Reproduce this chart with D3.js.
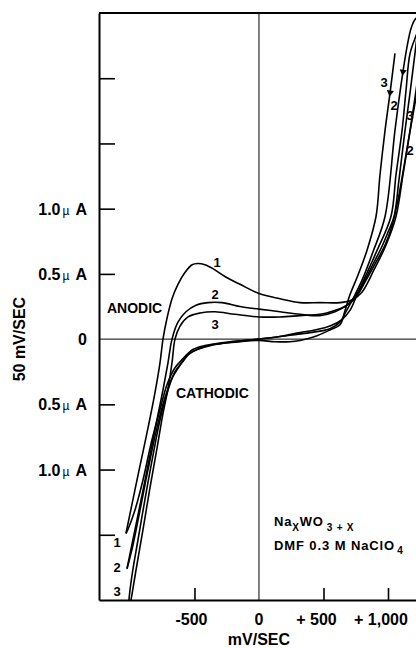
<!DOCTYPE html>
<html>
<head>
<meta charset="utf-8">
<script src="https://cdn.jsdelivr.net/npm/d3@7"></script>
<style>
  body { margin: 0; background: #fff; }
  text { font-family: "Liberation Sans", Arial, sans-serif; font-weight: bold; fill: #000; }
</style>
</head>
<body>
<svg id="chart"></svg>
<script>
// Cyclic voltammogram, 3 cycles. Points are [mV, µA]
const cycle1Anodic = [[-1031,-1.49],[-977,-1.23],[-922,-0.97],[-860,-0.68],[-806,-0.41],[-767,-0.18],[-744,0],
  [-713,0.16],[-674,0.31],[-628,0.42],[-574,0.51],[-519,0.57],[-473,0.58],[-419,0.57],[-357,0.54],[-264,0.48],
  [-147,0.42],[0,0.35],[163,0.31],[318,0.28],[473,0.28],[628,0.28],[721,0.30],[798,0.36],[891,0.53],[984,0.72],
  [1062,0.94],[1116,1.26],[1171,1.60],[1233,2.02],[1266,2.33],[1262,2.44]];
const cycle1Cathodic = [[1262,2.44],[1238,2.47],[1209,2.45],[1178,2.38],[1155,2.28],[1116,2.05],[1054,1.60],
  [977,0.94],[884,0.67],[798,0.45],[729,0.31],[674,0.21],[628,0.13],[550,0.08],[395,0.05],[240,0.03],[0,0],
  [-225,-0.02],[-419,-0.05],[-512,-0.08],[-589,-0.15],[-651,-0.22],[-713,-0.35],[-767,-0.54],[-829,-0.77],
  [-899,-1.08],[-961,-1.31],[-1016,-1.46],[-1031,-1.49]];
const cycle2Anodic = [[-1023,-1.76],[-961,-1.46],[-899,-1.16],[-845,-0.89],[-791,-0.62],[-744,-0.39],[-705,-0.18],
  [-674,0],[-628,0.13],[-566,0.21],[-488,0.26],[-395,0.28],[-287,0.28],[-147,0.25],[0,0.23],[163,0.21],[318,0.19],
  [473,0.18],[589,0.21],[682,0.26],[744,0.31],[829,0.45],[907,0.59],[977,0.72],[1031,0.87],[1078,1.07],
  [1132,1.37],[1186,1.68],[1248,2.02],[1295,2.29]];
const cycle2Cathodic = [[1287,2.56],[1233,2.37],[1171,2.19],[1140,1.91],[1109,1.60],[1062,1.26],[1023,0.94],
  [915,0.68],[829,0.49],[760,0.34],[705,0.22],[643,0.15],[550,0.10],[434,0.07],[318,0.05],[163,0.02],[0,0],
  [-186,-0.02],[-380,-0.05],[-481,-0.08],[-550,-0.12],[-612,-0.20],[-674,-0.30],[-729,-0.45],[-791,-0.68],
  [-860,-1.00],[-922,-1.31],[-977,-1.58],[-1023,-1.76]];
const cycle3Anodic = [[-1016,-2.12],[-992,-2.00],[-953,-1.77],[-899,-1.46],[-845,-1.14],[-791,-0.84],[-744,-0.57],
  [-705,-0.38],[-674,-0.18],[-651,0],[-612,0.10],[-550,0.17],[-457,0.20],[-341,0.21],[-186,0.19],[0,0.17],
  [163,0.17],[318,0.18],[473,0.19],[589,0.22],[667,0.25],[721,0.30],[798,0.41],[876,0.56],[953,0.71],
  [1000,0.82],[1047,0.94],[1085,1.22],[1132,1.60],[1171,1.89],[1209,2.19],[1248,2.50],[1271,2.64]];
const cycle3Cathodic = [[1054,2.19],[1016,1.89],[977,1.60],[938,1.26],[907,0.94],[837,0.68],[767,0.49],
  [705,0.34],[667,0.22],[628,0.11],[550,0.07],[434,0.02],[318,-0.01],[240,-0.02],[124,-0.02],[0,-0.01],
  [-147,-0.02],[-341,-0.04],[-457,-0.07],[-535,-0.11],[-597,-0.18],[-651,-0.25],[-705,-0.39],[-767,-0.62],
  [-829,-0.93],[-884,-1.23],[-938,-1.54],[-984,-1.81],[-1008,-2.00],[-1016,-2.12]];

// sweep direction arrows: [mV, µA] of the head, then a point further along the sweep
const arrowHeads = [[[1016,1.89],[977,1.60]], [[1116,2.05],[1054,1.60]]];

// axis ticks and labels
const yTickValues = [2.0, 1.5, 1.0, 0.5, -0.5, -1.0, -1.5];
const yLabelValues = [1.0, 0.5, 0, -0.5, -1.0];
const yLabelTexts = ["1.0", "0.5", "0", "0.5", "1.0"];
const xTickValues = [-500, 500, 1000];
const xLabelValues = [-500, 0, 500, 1000];
const xLabelTexts = ["-500", "0", "+ 500", "+ 1,000"];

const W = 416, H = 648;
const margin = { top: 13, right: 0, bottom: 48, left: 99 };

const svg = d3.select("#chart").attr("width", W).attr("height", H);

const x = d3.scaleLinear().domain([-1240, 1217]).range([margin.left, W - margin.right]);
const y = d3.scaleLinear().domain([-2.0, 2.5]).range([H - margin.bottom, margin.top]);

svg.append("clipPath").attr("id", "plot")
  .append("rect")
  .attr("x", margin.left).attr("y", margin.top)
  .attr("width", W - margin.left - margin.right)
  .attr("height", H - margin.top - margin.bottom);

// zero lines
svg.append("line")
  .attr("x1", x(0)).attr("x2", x(0)).attr("y1", y(2.5)).attr("y2", y(-2.0))
  .attr("stroke", "#000").attr("stroke-width", 1);
svg.append("line")
  .attr("x1", margin.left).attr("x2", W).attr("y1", y(0)).attr("y2", y(0))
  .attr("stroke", "#000").attr("stroke-width", 1);

// top border
svg.append("line")
  .attr("x1", margin.left).attr("x2", W).attr("y1", y(2.5)).attr("y2", y(2.5))
  .attr("stroke", "#000").attr("stroke-width", 2);

// axes, ticks point inward
const yAxis = svg.append("g")
  .attr("transform", `translate(${margin.left},0)`)
  .call(d3.axisLeft(y).tickValues(yTickValues).tickSizeInner(-16).tickSizeOuter(0).tickFormat(""));
const xAxis = svg.append("g")
  .attr("transform", `translate(0,${H - margin.bottom})`)
  .call(d3.axisBottom(x).tickValues(xTickValues).tickSizeInner(-12).tickSizeOuter(0).tickFormat(""));
[yAxis, xAxis].forEach(g => {
  g.select(".domain").attr("stroke-width", 2);
  g.selectAll(".tick line").attr("stroke-width", 1.6);
});

// curves
const line = d3.line().x(d => x(d[0])).y(d => y(d[1])).curve(d3.curveCatmullRom.alpha(0.5));
const curves = [cycle1Anodic, cycle1Cathodic, cycle2Anodic, cycle2Cathodic, cycle3Anodic, cycle3Cathodic];
svg.append("g").attr("clip-path", "url(#plot)")
  .selectAll("path")
  .data(curves)
  .enter()
  .append("path")
  .attr("d", line)
  .attr("fill", "none")
  .attr("stroke", "#000")
  .attr("stroke-width", 1.6)
  .attr("stroke-linejoin", "round");

// arrowheads
svg.selectAll(".arrow")
  .data(arrowHeads)
  .enter()
  .append("path")
  .attr("class", "arrow")
  .attr("d", d3.symbol(d3.symbolTriangle).size(22))
  .attr("transform", d => {
    const px = x(d[0][0]), py = y(d[0][1]);
    const ang = Math.atan2(y(d[1][1]) - py, x(d[1][0]) - px) * 180 / Math.PI;
    return `translate(${px},${py}) rotate(${ang + 90})`;
  });

// y tick labels
yLabelValues.forEach((v, k) => {
  const t = svg.append("text")
    .attr("x", 87).attr("y", y(v) + 6)
    .attr("text-anchor", "end")
    .style("font-size", "16px")
    .text(yLabelTexts[k]);
  if (v !== 0) {
    t.append("tspan").attr("dx", 2).style("font-size", "12px").style("font-weight", "normal").text("µ");
    t.append("tspan").attr("dx", 6).text("A");
  }
});

// x tick labels
xLabelValues.forEach((v, k) => {
  const txt = xLabelTexts[k];
  const shift = txt.startsWith("+") ? -7 : (txt.startsWith("-") ? -3 : 0);
  svg.append("text")
    .attr("x", x(v) + shift).attr("y", 625)
    .attr("text-anchor", "middle")
    .style("font-size", "16px")
    .text(txt);
});

// axis titles
svg.append("text")
  .attr("x", x(0)).attr("y", 645)
  .attr("text-anchor", "middle")
  .style("font-size", "16px")
  .text("mV/SEC");

svg.append("text")
  .attr("transform", `translate(25,${y(0)}) rotate(-90)`)
  .attr("text-anchor", "middle")
  .style("font-size", "16px")
  .text("50 mV/SEC");

// region labels
svg.append("text").attr("x", 107).attr("y", 313).style("font-size", "14px").text("ANODIC");
svg.append("text").attr("x", 176).attr("y", 398).style("font-size", "14px").text("CATHODIC");

// cycle numbers
const cycleLabels = [
  ["1", 217, 267], ["2", 215, 299], ["3", 215, 329],
  ["1", 117, 547], ["2", 117, 572], ["3", 117, 596],
  ["3", 384, 87], ["2", 394, 110], ["3", 410, 120], ["2", 410, 155]
];
svg.selectAll(".cyc")
  .data(cycleLabels)
  .enter()
  .append("text")
  .attr("class", "cyc")
  .attr("x", d => d[1]).attr("y", d => d[2])
  .attr("text-anchor", "middle")
  .style("font-size", "13px")
  .text(d => d[0]);

// solution note
const note1 = svg.append("text").attr("x", 274).attr("y", 526)
  .style("font-size", "13px").style("letter-spacing", "0.8px").text("Na");
note1.append("tspan").attr("dy", 5).style("font-size", "10px").text("X");
note1.append("tspan").attr("dy", -5).text("WO");
note1.append("tspan").attr("dy", 5).attr("dx", 3).style("font-size", "10px").text("3 + X");

const note2 = svg.append("text").attr("x", 274).attr("y", 550)
  .style("font-size", "13px").style("letter-spacing", "0.9px").text("DMF 0.3 M NaClO");
note2.append("tspan").attr("dy", 4).attr("dx", 2).style("font-size", "10px").text("4");
</script>
</body>
</html>
